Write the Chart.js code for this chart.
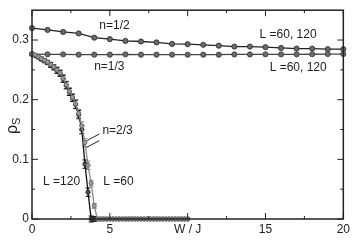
<!DOCTYPE html>
<html lang="en">
<head>
    <meta charset="UTF-8">
    <title>rho_s vs W/J</title>
    <script src="https://cdn.jsdelivr.net/npm/chart.js@4.4.0/dist/chart.umd.min.js"></script>
    <style>
        html, body { margin: 0; padding: 0; background: #fff; }
        #wrap { width: 353px; height: 241px; }
    </style>
</head>
<body>
    <div id="wrap"><canvas id="chart_area" width="353" height="241"></canvas></div>
    <script>
        // n = 1/2 and n = 1/3, one point per integer W
        var w_int = [0, 1, 2, 3, 4, 5, 6, 7, 8, 9, 10, 11, 12, 13, 14, 15, 16, 17, 18, 19, 20];
        var rho_half = [0.320, 0.317, 0.3135, 0.311, 0.304, 0.3015, 0.2985, 0.2975, 0.296, 0.2935, 0.293,
                        0.292, 0.2905, 0.289, 0.289, 0.288, 0.2867, 0.2856, 0.2856, 0.2846, 0.2846];
        var rho_third = [0.2765, 0.276, 0.276, 0.2755, 0.2755, 0.2755, 0.276, 0.2755, 0.2755, 0.2755, 0.2755,
                         0.2755, 0.2755, 0.2758, 0.2758, 0.276, 0.276, 0.276, 0.2762, 0.2765, 0.2765];

        // n = 2/3, finer W grid
        var w_fine = [0, 0.2, 0.4, 0.6, 0.8, 1.0, 1.2, 1.4, 1.6, 1.8, 2.0, 2.2, 2.4, 2.6, 2.8, 3.0, 3.2, 3.4, 3.6, 3.8,
                      4.0, 4.2, 4.4, 4.6, 4.8, 5.0, 5.2, 5.4, 5.6, 5.8, 6.0, 6.2, 6.4, 6.6, 6.8, 7.0, 7.2, 7.4, 7.6, 7.8,
                      8.0, 8.2, 8.4, 8.6, 8.8, 9.0, 9.2, 9.4, 9.6, 9.8, 10.0];
        var rho_23_L60 = [0.277, 0.275, 0.272, 0.269, 0.266, 0.263, 0.259, 0.255, 0.250, 0.245, 0.236, 0.225, 0.214, 0.204, 0.193, 0.177,
                          0.156, 0.128, 0.090, 0.060, 0.022, 0, 0, 0, 0, 0, 0, 0, 0, 0, 0, 0, 0, 0, 0, 0, 0, 0, 0, 0,
                          0, 0, 0, 0, 0, 0, 0, 0, 0, 0, 0];
        var rho_23_L120 = [0.276, 0.274, 0.271, 0.268, 0.265, 0.262, 0.258, 0.254, 0.249, 0.244, 0.235, 0.224, 0.213, 0.203, 0.192, 0.175,
                           0.150, 0.092, 0.045, 0, 0, 0, 0, 0, 0, 0, 0, 0, 0, 0, 0, 0, 0, 0, 0, 0, 0, 0, 0, 0,
                           0, 0, 0, 0, 0, 0, 0, 0, 0, 0, 0];
        var err_23 = [0.001, 0.002, 0.002, 0.003, 0.003, 0.003, 0.004, 0.004, 0.005, 0.005, 0.006, 0.006, 0.006, 0.006, 0.007, 0.007,
                      0.007, 0.007, 0.007, 0.005, 0.004, 0, 0, 0, 0, 0, 0, 0, 0, 0, 0, 0, 0, 0, 0, 0, 0, 0, 0, 0,
                      0, 0, 0, 0, 0, 0, 0, 0, 0, 0, 0];

        var x_major = [0, 5, 10, 15, 20];
        var x_minor = [2.5, 7.5, 12.5, 17.5];
        var y_major = [0, 0.1, 0.2, 0.3];
        var y_minor = [0.05, 0.15, 0.25];

        var FONT = '"Liberation Sans", Arial, sans-serif';

        function pts(xs, ys) {
            var out = [];
            for (var i = 0; i < xs.length; i++) out.push({x: xs[i], y: ys[i]});
            return out;
        }

        function series(ys, xs, line, fill, border, radius, err) {
            return {
                data: pts(xs, ys),
                borderColor: line,
                borderWidth: 1.3,
                pointRadius: radius,
                pointBackgroundColor: fill,
                pointBorderColor: border,
                pointBorderWidth: 0.8,
                tension: 0,
                err: err
            };
        }

        // error bars, ticks on all four sides pointing in, frame and text
        var decor = {
            id: 'decor',
            beforeDatasetsDraw: function(chart) {
                var ctx = chart.ctx;
                var ys = chart.scales.y;
                ctx.save();
                ctx.lineWidth = 1;
                chart.data.datasets.forEach(function(ds, di) {
                    if (!ds.err) return;
                    var meta = chart.getDatasetMeta(di);
                    ds.data.forEach(function(p, i) {
                        var e = ds.err[i];
                        if (!e) return;
                        var px = meta.data[i].x;
                        var y1 = ys.getPixelForValue(p.y + e);
                        var y2 = ys.getPixelForValue(p.y - e);
                        ctx.strokeStyle = ds.borderColor;
                        ctx.beginPath();
                        ctx.moveTo(px, y1); ctx.lineTo(px, y2);
                        ctx.moveTo(px - 2.5, y1); ctx.lineTo(px + 2.5, y1);
                        ctx.moveTo(px - 2.5, y2); ctx.lineTo(px + 2.5, y2);
                        ctx.stroke();
                    });
                });
                ctx.restore();
            },
            afterDraw: function(chart) {
                var ctx = chart.ctx;
                var a = chart.chartArea;
                var xs = chart.scales.x;
                var ys = chart.scales.y;
                ctx.save();
                ctx.strokeStyle = '#222';
                ctx.lineWidth = 1.5;
                ctx.strokeRect(a.left, a.top, a.right - a.left, a.bottom - a.top);

                ctx.lineWidth = 1;
                function xtick(v, len) {
                    var px = xs.getPixelForValue(v);
                    ctx.beginPath();
                    ctx.moveTo(px, a.bottom); ctx.lineTo(px, a.bottom - len);
                    ctx.moveTo(px, a.top); ctx.lineTo(px, a.top + len);
                    ctx.stroke();
                }
                function ytick(v, len) {
                    var py = ys.getPixelForValue(v);
                    ctx.beginPath();
                    ctx.moveTo(a.left, py); ctx.lineTo(a.left + len, py);
                    ctx.moveTo(a.right, py); ctx.lineTo(a.right - len, py);
                    ctx.stroke();
                }
                x_major.forEach(function(v) { xtick(v, 6); });
                x_minor.forEach(function(v) { xtick(v, 3); });
                y_major.forEach(function(v) { ytick(v, 6); });
                y_minor.forEach(function(v) { ytick(v, 3); });

                ctx.fillStyle = '#222';
                ctx.textAlign = 'center';
                ctx.textBaseline = 'middle';
                ctx.font = '12px ' + FONT;
                function label(t, wx, wy) {
                    ctx.fillText(t, xs.getPixelForValue(wx), ys.getPixelForValue(wy));
                }
                label('n=1/2', 5.3, 0.3236);
                label('n=1/3', 4.97, 0.256);
                label('L =60, 120', 16.45, 0.309);
                label('L =60, 120', 17.1, 0.253);
                label('n=2/3', 5.5, 0.1474);
                label('L =120', 1.9, 0.0625);
                label('L =60', 5.55, 0.0625);

                // leader lines from n=2/3 to the curves
                ctx.strokeStyle = '#222';
                ctx.lineWidth = 1;
                ctx.beginPath();
                ctx.moveTo(xs.getPixelForValue(4.33), ys.getPixelForValue(0.1426));
                ctx.lineTo(xs.getPixelForValue(3.5), ys.getPixelForValue(0.131));
                ctx.moveTo(xs.getPixelForValue(4.33), ys.getPixelForValue(0.1314));
                ctx.lineTo(xs.getPixelForValue(3.5), ys.getPixelForValue(0.120));
                ctx.stroke();

                // y axis title, rho with subscript S, rotated
                ctx.translate(17, 128);
                ctx.rotate(-Math.PI / 2);
                ctx.textAlign = 'left';
                ctx.textBaseline = 'alphabetic';
                ctx.font = '16px ' + FONT;
                ctx.fillText('\u03C1', -6, 0);
                ctx.font = '11px ' + FONT;
                ctx.fillText('S', 3, 3);
                ctx.restore();
            }
        };

        var config = {
            type: 'line',
            data: {
                datasets: [
                    series(rho_23_L60, w_fine, '#8a8a8a', '#9a9a9a', '#606060', 2.1, err_23),
                    series(rho_23_L120, w_fine, '#111', '#555', '#111', 2.1, err_23),
                    series(rho_third, w_int, '#444', '#6a6a6a', '#3a3a3a', 2.6, null),
                    series(rho_half, w_int, '#222', '#6a6a6a', '#2a2a2a', 2.6, null)
                ]
            },
            options: {
                responsive: false,
                animation: false,
                clip: false,
                layout: { padding: { left: 0, top: 1, right: 7, bottom: 0 } },
                plugins: { legend: { display: false }, tooltip: { enabled: false } },
                scales: {
                    x: {
                        type: 'linear',
                        min: 0, max: 20,
                        grid: { display: false, drawTicks: false },
                        border: { display: false },
                        ticks: {
                            stepSize: 5,
                            padding: 3,
                            color: '#222',
                            font: { family: FONT, size: 12 },
                            maxRotation: 0,
                            callback: function(v) { return v === 10 ? 'W / J' : String(v); }
                        },
                        afterFit: function(s) { s.height = 22; }
                    },
                    y: {
                        min: 0, max: 0.35,
                        grid: { display: false, drawTicks: false },
                        border: { display: false },
                        ticks: {
                            stepSize: 0.1,
                            padding: 3,
                            color: '#222',
                            font: { family: FONT, size: 12 },
                            callback: function(v) {
                                var r = Math.round(v * 10) / 10;
                                return r > 0.31 ? '' : (r === 0 ? '0' : r.toFixed(1));
                            }
                        },
                        afterFit: function(s) { s.width = 32; }
                    }
                }
            },
            plugins: [decor]
        };

        var ctx = document.getElementById('chart_area').getContext('2d');
        window.myChart = new Chart(ctx, config);
    </script>
</body>
</html>
